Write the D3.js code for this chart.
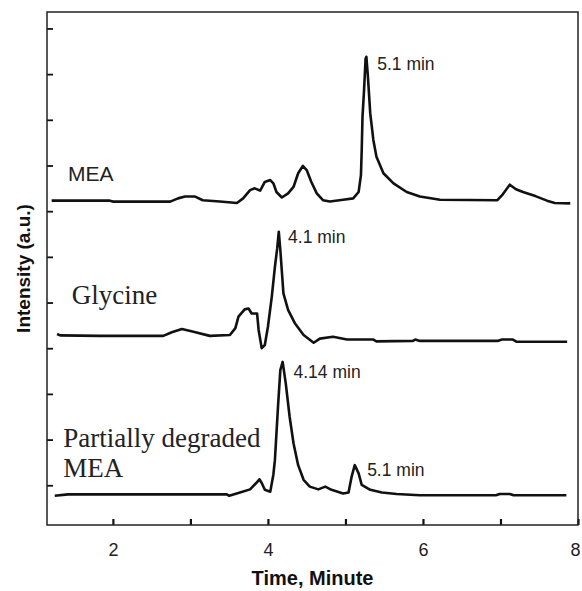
<!DOCTYPE html>
<html>
<head>
<meta charset="utf-8">
<script src="https://cdn.jsdelivr.net/npm/d3@7/dist/d3.min.js"></script>
<style>
body { margin: 0; background: #fff; }
</style>
</head>
<body>
<script>
// chromatograms: time in minutes, intensity in a.u. (traces are stacked)
var meaTime = [1.21,1.96,2.00,2.74,2.84,2.93,3.06,3.16,3.38,3.60,3.68,3.77,3.83,3.90,3.96,4.03,4.07,4.11,4.18,4.26,4.33,4.39,4.45,4.50,4.56,4.63,4.71,4.80,4.97,5.10,5.17,5.20,5.21,5.22,5.24,5.26,5.27,5.29,5.32,5.36,5.40,5.49,5.62,5.79,5.96,6.22,6.96,7.03,7.12,7.20,7.29,7.45,7.60,7.70,7.90];
var meaInt  = [7.23,7.23,7.21,7.21,7.28,7.32,7.32,7.24,7.21,7.18,7.28,7.46,7.50,7.45,7.64,7.68,7.61,7.42,7.30,7.39,7.53,7.83,7.99,7.90,7.64,7.39,7.24,7.21,7.25,7.28,7.42,7.79,8.34,9.06,9.65,10.34,10.38,9.94,9.14,8.56,8.19,7.83,7.61,7.42,7.32,7.25,7.24,7.37,7.58,7.48,7.42,7.33,7.23,7.18,7.17];

var glyTime = [1.28,1.32,1.83,2.65,2.76,2.89,3.04,3.25,3.51,3.58,3.62,3.70,3.75,3.79,3.86,3.88,3.92,3.96,4.00,4.05,4.09,4.12,4.14,4.16,4.20,4.26,4.35,4.46,4.59,4.67,4.84,5.02,5.36,5.40,5.87,5.90,5.96,6.96,7.02,7.16,7.21,7.86];
var glyInt  = [4.31,4.28,4.27,4.27,4.35,4.42,4.36,4.27,4.29,4.44,4.69,4.85,4.87,4.76,4.76,4.40,4.00,4.07,4.47,5.13,5.78,6.19,6.55,6.15,5.20,4.84,4.54,4.29,4.12,4.21,4.25,4.19,4.19,4.15,4.16,4.19,4.16,4.16,4.19,4.19,4.14,4.14];

var degTime = [1.25,1.42,3.47,3.50,3.64,3.77,3.86,3.89,3.92,3.96,4.03,4.07,4.09,4.13,4.16,4.19,4.23,4.28,4.33,4.39,4.46,4.54,4.65,4.74,4.82,4.97,5.04,5.08,5.12,5.17,5.21,5.32,5.47,5.66,5.96,6.94,6.99,7.12,7.17,7.85];
var degInt  = [0.77,0.80,0.80,0.77,0.84,0.91,1.07,1.13,1.05,0.90,0.86,1.23,1.55,2.72,3.52,3.70,3.23,2.50,1.92,1.44,1.12,0.97,0.91,0.97,0.90,0.82,0.84,1.19,1.44,1.26,1.01,0.90,0.84,0.81,0.78,0.78,0.81,0.81,0.78,0.78];

var traceNames = ["MEA", "Glycine", "Partially degraded MEA"];
var peakLabels = ["5.1 min", "4.1 min", "4.14 min", "5.1 min"];
var xTicks = [2, 3, 4, 5, 6, 7, 8];
var xTickLabels = [2, 4, 6, 8];
var yTicks = [1, 2, 3, 4, 5, 6, 7, 8, 9, 10, 11];

var width = 582, height = 591,
    margin = {left: 47, top: 12, right: 4, bottom: 66};
var iw = width - margin.left - margin.right,
    ih = height - margin.top - margin.bottom;

var svg = d3.select("body").append("svg")
    .attr("width", width)
    .attr("height", height);

var g = svg.append("g")
    .attr("transform", "translate(" + margin.left + "," + margin.top + ")");

var x = d3.scaleLinear().domain([1.15, 8]).range([0, iw]);
var y = d3.scaleLinear().domain([0.13, 11.36]).range([ih, 0]);

var sans = "'Liberation Sans', Arial, sans-serif",
    serif = "'Liberation Serif', 'Times New Roman', serif";

// axes: ticks point inward, no domain path (frame drawn separately)
var xAxis = d3.axisBottom(x)
    .tickValues(xTicks)
    .tickSizeInner(-6)
    .tickSizeOuter(0)
    .tickPadding(18)
    .tickFormat(function(d) { return xTickLabels.indexOf(d) >= 0 ? d : ""; });

var xg = g.append("g")
    .attr("transform", "translate(0," + ih + ")")
    .call(xAxis);
xg.select(".domain").remove();
xg.selectAll(".tick line").attr("stroke", "#111").attr("stroke-width", 2.2);
xg.selectAll(".tick text")
    .attr("fill", "#222")
    .attr("dx", function(d) { return d === 8 ? -3 : 0; })
    .style("font-family", sans)
    .style("font-size", "18px");

var yAxis = d3.axisLeft(y)
    .tickValues(yTicks)
    .tickSizeInner(-6)
    .tickSizeOuter(0)
    .tickFormat("");

var yg = g.append("g").call(yAxis);
yg.select(".domain").remove();
yg.selectAll(".tick line").attr("stroke", "#111").attr("stroke-width", 1.8);

g.append("rect")
    .attr("width", iw)
    .attr("height", ih)
    .attr("fill", "none")
    .attr("stroke", "#222")
    .attr("stroke-width", 1.5);

// traces
var line = d3.line()
    .x(function(d) { return x(d[0]); })
    .y(function(d) { return y(d[1]); });

[[meaTime, meaInt], [glyTime, glyInt], [degTime, degInt]].forEach(function(s) {
    g.append("path")
        .datum(d3.zip(s[0], s[1]))
        .attr("d", line)
        .attr("fill", "none")
        .attr("stroke", "#111")
        .attr("stroke-width", 2.6)
        .attr("stroke-linejoin", "round");
});

// trace names
g.append("text")
    .attr("x", x(1.42)).attr("y", y(7.65))
    .style("font-family", sans).style("font-size", "21px").attr("fill", "#222")
    .text(traceNames[0]);

g.append("text")
    .attr("x", x(1.47)).attr("y", y(4.97))
    .style("font-family", serif).style("font-size", "27px").attr("fill", "#222")
    .text(traceNames[1]);

var parts = traceNames[2].split(" ");
var t3 = g.append("text")
    .attr("x", x(1.36)).attr("y", y(1.84))
    .style("font-family", serif).style("font-size", "27px").attr("fill", "#222");
t3.append("tspan").attr("x", x(1.36)).text(parts[0] + " " + parts[1]);
t3.append("tspan").attr("x", x(1.36)).attr("dy", 30.6).text(parts[2]);

// peak annotations
var annot = [
    {t: peakLabels[0], x: 5.41, y: 10.09},
    {t: peakLabels[1], x: 4.26, y: 6.31},
    {t: peakLabels[2], x: 4.33, y: 3.34},
    {t: peakLabels[3], x: 5.28, y: 1.21}
];
g.selectAll("text.peak")
    .data(annot)
    .enter().append("text")
    .attr("class", "peak")
    .attr("x", function(d) { return x(d.x); })
    .attr("y", function(d) { return y(d.y); })
    .style("font-family", sans).style("font-size", "17.5px").attr("fill", "#222")
    .text(function(d) { return d.t; });

// axis titles
svg.append("text")
    .attr("x", margin.left + iw / 2)
    .attr("y", 585)
    .attr("text-anchor", "middle")
    .style("font-family", sans).style("font-size", "20px").style("font-weight", "bold")
    .attr("fill", "#111")
    .text("Time, Minute");

svg.append("text")
    .attr("transform", "translate(30," + (margin.top + ih / 2) + ") rotate(-90)")
    .attr("text-anchor", "middle")
    .style("font-family", sans).style("font-size", "19px").style("font-weight", "bold")
    .attr("fill", "#111")
    .text("Intensity (a.u.)");
</script>
</body>
</html>
